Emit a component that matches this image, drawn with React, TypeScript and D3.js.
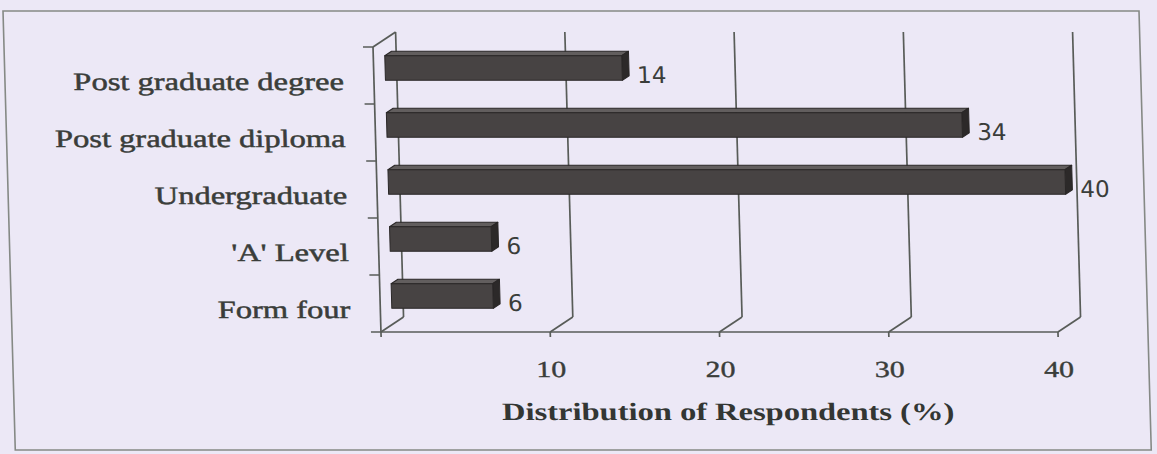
import React from "react";
import * as d3 from "d3";

const categories = [
  "Post graduate degree",
  "Post graduate diploma",
  "Undergraduate",
  "'A' Level",
  "Form four",
];
const values = [14, 34, 40, 6, 6];
const xTicks = [10, 20, 30, 40];
const axisTitle = "Distribution of Respondents (%)";

const W = 1157;
const H = 454;
const DX = 23;
const DY = -15;
const Z0 = 0.5;
const Z1 = 0.8;
const SKEW = 1.6;
const Y0 = 190;

const BG = "#ece8f6";
const LINE = "#585c58";
const TEXT = "#3a3d3a";

export default function App() {
  const x = d3.scaleLinear().domain([0, 40]).range([377, 1054]);
  const y = d3.scaleBand<string>().domain(categories).range([47, 332]);
  const bw = y.bandwidth();
  const top = 47;
  const floor = 332;
  const x0 = x(0);
  const tan = Math.tan((SKEW * Math.PI) / 180);
  const sx = 1.3;

  const boundaries = d3.range(categories.length + 1).map((i) => top + i * bw);

  return (
    <div style={{ position: "fixed", left: 0, top: 0, width: W, height: H, background: BG }}>
      <svg width={W} height={H} style={{ display: "block" }}>
        <rect x={0} y={0} width={W} height={H} fill={BG} />
        <g transform={`translate(${-Y0 * tan},0) skewX(${SKEW})`}>
          <rect x={8} y={11} width={1136} height={439} fill="none" stroke="#858985" strokeWidth={1.6} />

          {/* left wall */}
          <g stroke={LINE} strokeWidth={1.7} fill="none">
            <line x1={x0} y1={top} x2={x0} y2={floor} />
            <line x1={x0 + DX} y1={top + DY} x2={x0 + DX} y2={floor + DY} />
            <line x1={x0} y1={top} x2={x0 + DX} y2={top + DY} />
            <line x1={x0} y1={floor} x2={x0 + DX} y2={floor + DY} />
            {boundaries.map((b, i) => (
              <line key={"t" + i} x1={x0 - 10} y1={b} x2={x0} y2={b} />
            ))}
            {/* floor */}
            <line x1={x0} y1={floor} x2={x(40)} y2={floor} />
            <line x1={x0} y1={floor} x2={x0} y2={floor + 5} />
            {xTicks.map((t) => (
              <g key={"g" + t}>
                <line x1={x(t) + DX} y1={top + DY} x2={x(t) + DX} y2={floor + DY} />
                <line x1={x(t) + DX} y1={floor + DY} x2={x(t)} y2={floor} />
                <line x1={x(t)} y1={floor} x2={x(t)} y2={floor + 5} />
              </g>
            ))}
          </g>

          {/* bars */}
          {categories.map((c, i) => {
            const v = values[i];
            const h = bw * 0.43;
            const yc = (y(c) as number) + bw / 2;
            const ya = yc - h / 2 + DY * Z0;
            const xa = x0 + DX * Z0;
            const xb = x(v) + DX * Z0;
            const ddx = DX * (Z1 - Z0);
            const ddy = DY * (Z1 - Z0);
            return (
              <g key={c} stroke="#2a2727" strokeWidth={1} strokeLinejoin="round">
                <polygon
                  points={`${xa},${ya} ${xb},${ya} ${xb + ddx},${ya + ddy} ${xa + ddx},${ya + ddy}`}
                  fill="#625e5e"
                />
                <polygon
                  points={`${xb},${ya} ${xb + ddx},${ya + ddy} ${xb + ddx},${ya + h + ddy} ${xb},${ya + h}`}
                  fill="#2c2929"
                />
                <rect x={xa} y={ya} width={xb - xa} height={h} fill="#474343" />
                <text
                  x={x(v) + DX * Z1 + 8}
                  y={yc + 8}
                  fontFamily="DejaVu Sans, Verdana, sans-serif"
                  fontSize={23}
                  fill={TEXT}
                  stroke="none"
                >
                  {v}
                </text>
              </g>
            );
          })}

          {/* category labels */}
          {categories.map((c) => (
            <text
              key={"l" + c}
              transform={`translate(${x0 - 30},${(y(c) as number) + bw / 2 + 14}) scale(${sx},1)`}
              textAnchor="end"
              fontFamily="Liberation Serif, Times New Roman, serif"
              fontSize={25}
              fill={TEXT}
              stroke={TEXT}
              strokeWidth={0.5}
            >
              {c}
            </text>
          ))}

          {/* x tick labels */}
          {xTicks.map((t) => (
            <text
              key={"x" + t}
              transform={`translate(${x(t)},${377}) scale(${sx},1)`}
              textAnchor="middle"
              fontFamily="Liberation Serif, Times New Roman, serif"
              fontSize={23}
              fill={TEXT}
              stroke={TEXT}
              strokeWidth={0.4}
            >
              {t}
            </text>
          ))}

          <text
            transform={`translate(${722},${420}) scale(${sx},1)`}
            textAnchor="middle"
            fontFamily="Liberation Serif, Times New Roman, serif"
            fontWeight="bold"
            fontSize={25}
            fill="#333633"
          >
            {axisTitle}
          </text>
        </g>
      </svg>
    </div>
  );
}
